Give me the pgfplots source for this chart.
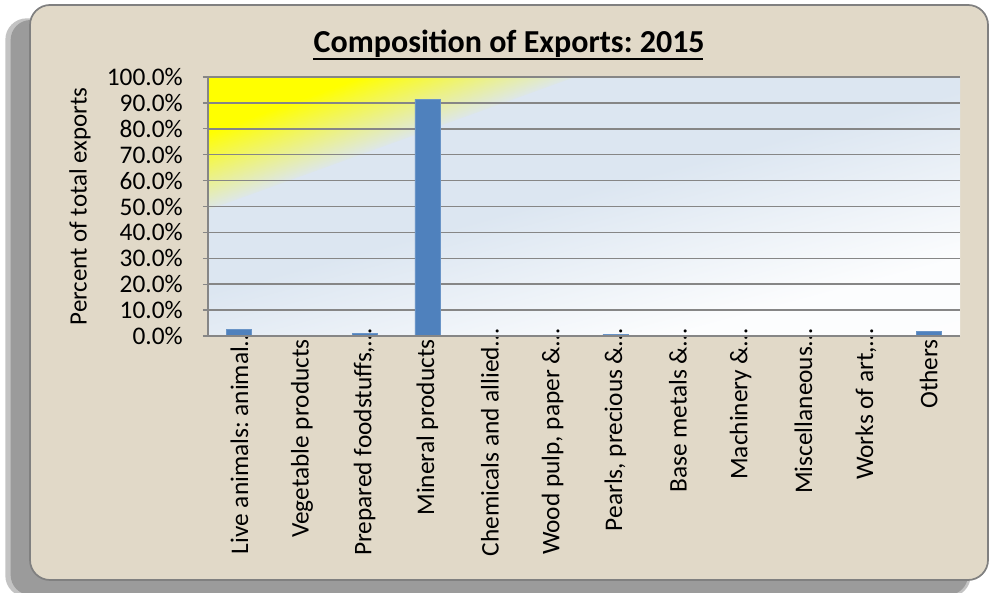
\documentclass[border=0pt]{standalone}
\usepackage{fontspec}
\setmainfont{Carlito}
\usepackage{pgfplots}
\pgfplotsset{compat=1.18}
\frenchspacing
\definecolor{bgblue}{RGB}{220,230,241}
\definecolor{beige}{RGB}{225,217,200}
\definecolor{barblue}{RGB}{79,129,189}
\definecolor{gridgray}{RGB}{134,134,134}
\definecolor{shadowgray}{RGB}{155,155,155}
\pgfdeclareverticalshading{yglow}{100bp}{color(0bp)=(yellow); color(25bp)=(yellow); color(46bp)=(yellow); color(76bp)=(bgblue); color(100bp)=(bgblue)}
\pgfdeclareverticalshading{bgshade}{100bp}{color(0bp)=(white); color(30bp)=(white!90!bgblue); color(52bp)=(bgblue); color(100bp)=(bgblue)}
\newcommand{\el}{…\kern-7.5pt}
\begin{document}
\begin{tikzpicture}
\useasboundingbox (0,0) rectangle (742.5pt,444.75pt);
% shadow
\fill[shadowgray!60, rounded corners=16pt] (4pt,-3pt) rectangle (728pt,431pt);
\fill[shadowgray, rounded corners=15pt] (8pt,-1.5pt) rectangle (726pt,429.75pt);
% frame
\fill[beige, rounded corners=15pt] (22.5pt,9.75pt) rectangle (741pt,441pt);
\draw[gray, line width=1.3pt, rounded corners=15pt] (22.5pt,9.75pt) rectangle (741pt,441pt);
% plot area background
\shade[shading=bgshade, shading angle=15] (156pt,192.75pt) rectangle (720pt,387pt);
\begin{scope}[transform canvas={cm={-2.7525,-0.9975,2.7525,0,(156pt,387pt)}}]
\shade[shading=yglow] (0pt,0pt) -- (0pt,100pt) -- (100pt,100pt) -- cycle;
\end{scope}
\begin{axis}[
  at={(156pt,192.75pt)}, anchor=south west,
  scale only axis, width=564pt, height=194.25pt,
  xmin=-0.5, xmax=11.5, ymin=0, ymax=100,
  clip=false,
  axis line style={draw=none},
  ybar, bar width=18.75pt,
  /pgf/number format/assume math mode=true,
  ytick={0,10,...,100},
  yticklabel={\pgfmathprintnumber[fixed,fixed zerofill,precision=1]{\tick}\%},
  ytick pos=left,
  tick align=outside,
  major tick length=3.75pt,
  ytick style={gridgray, line width=1pt},
  xtick={0,...,11},
  xtick style={draw=none},
  xticklabels={{Live animals: animal\el},{Vegetable products},{Prepared foodstuffs,\el},{Mineral products},{Chemicals and allied\el},{Wood pulp, paper \&\el},{Pearls, precious \&\el},{Base metals \&\el},{Machinery \&\el},{Miscellaneous\el},{Works of art,\el},{Others}},
  tick label style={font=\fontsize{19}{21}\selectfont},
  yticklabel style={inner sep=0pt, anchor=east, xshift=-15pt},
  xticklabel style={rotate=90, anchor=east, inner xsep=0pt, inner ysep=0pt, xshift=1.5pt},
  ymajorgrids,
  grid style={gridgray, line width=1.1pt},
  ylabel={Percent of total exports},
  ylabel style={at={(axis description cs:-0.1702,0.5)}, anchor=center, rotate=0, font=\fontsize{18.7}{20}\selectfont},
  title={Composition of Exports: 2015},
  title style={at={(axis description cs:0.4005,1)}, anchor=base, yshift=12pt, inner sep=0pt, font=\fontsize{24}{28}\selectfont\bfseries},
]
\addplot[fill=barblue, draw=barblue!85!white, line width=0.5pt] coordinates {
(0,2.7) (1,0.3) (2,0.9) (3,91.4) (4,0.2) (5,0.1) (6,0.6) (7,0.1) (8,0.05) (9,0.05) (10,0.02) (11,1.9)};
\draw[gridgray, line width=1.1pt] (rel axis cs:0,1) -- (rel axis cs:0,0) -- (rel axis cs:1,0);
\end{axis}
\draw[line width=1.5pt] (234.75pt,400.5pt) -- (527.25pt,400.5pt);
\end{tikzpicture}
\end{document}
